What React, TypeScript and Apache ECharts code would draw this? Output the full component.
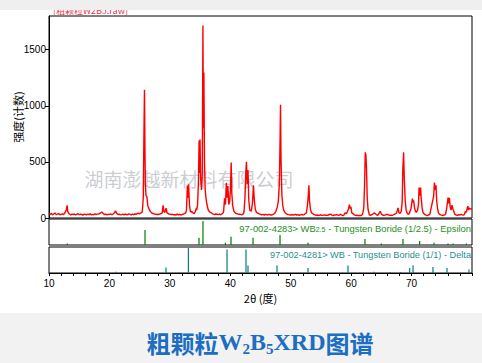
import React, { useEffect, useRef } from "react";
import * as echarts from "echarts";

// ---- XRD pattern (counts) ----
const PATTERN_START = 10;
const PATTERN_STEP = 0.2;
const patternBaseline = [
  38, 32, 41, 29, 36, 44, 31, 35, 40, 28,
  33, 37, 30, 42, 35, 39, 31, 36, 28, 34,
  30, 36, 27, 33, 38, 29, 35, 31, 26, 34,
  32, 28, 35, 30, 37, 27, 33, 29, 36, 31,
  34, 36, 40, 48, 52, 38, 30, 35, 28, 33,
  32, 36, 29, 35, 45, 63, 42, 31, 35, 28,
  30, 34, 27, 36, 31, 29, 37, 33, 28, 35,
  31, 36, 33, 39, 42, 38, 45, 50, 55, 60,
  90, 70, 60, 48, 45, 45, 40, 37, 32, 35,
  30, 33, 36, 40, 55, 80, 60, 45, 42, 36,
  35, 30, 33, 28, 31, 26, 34, 29, 32, 27,
  30, 33, 38, 45, 60, 150, 90, 55, 60, 45,
  40, 55, 90, 150, 300, 400, 300, 900, 400, 250,
  90, 70, 65, 55, 48, 40, 35, 31, 36, 33,
  30, 34, 29, 36, 45, 60, 120, 250, 200, 150,
  200, 300, 150, 60, 45, 40, 36, 32, 35, 29,
  30, 40, 50, 150, 300, 350, 200, 80, 60, 150,
  250, 100, 45, 42, 36, 32, 28, 33, 27, 31,
  30, 27, 33, 29, 25, 31, 35, 45, 60, 90,
  120, 400, 500, 150, 80, 50, 40, 35, 30, 28,
  27, 31, 25, 29, 33, 26, 30, 24, 28, 32,
  27, 30, 38, 45, 60, 120, 250, 100, 40, 32,
  28, 24, 27, 22, 26, 29, 23, 25, 28, 24,
  24, 27, 31, 35, 26, 22, 28, 25, 30, 26,
  24, 33, 28, 22, 26, 45, 38, 60, 80, 110,
  100, 45, 35, 25, 22, 26, 20, 24, 21, 27,
  27, 60, 300, 500, 150, 28, 24, 30, 35, 45,
  38, 28, 24, 40, 60, 35, 27, 24, 26, 30,
  33, 28, 23, 26, 22, 29, 35, 40, 45, 60,
  80, 50, 40, 200, 500, 300, 90, 35, 35, 30,
  45, 100, 170, 150, 70, 50, 60, 200, 260, 150,
  40, 30, 25, 22, 27, 30, 60, 84, 150, 200,
  250, 300, 100, 35, 28, 26, 22, 28, 30, 40,
  30, 80, 180, 170, 80, 110, 30, 26, 24, 30,
  27, 33, 28, 25, 31, 35, 39, 90, 70, 80,
  84,
];

const patternPeaks = [
  [[12.7, 45], [12.85, 70], [13.0, 113], [13.1, 60], [13.25, 40]],
  [[25.45, 65], [25.6, 180], [25.7, 700], [25.8, 1142], [25.88, 600], [25.95, 300], [26.05, 200], [26.2, 190], [26.35, 110], [26.5, 90], [26.65, 70], [26.8, 55]],
  [[28.73, 45], [28.88, 113], [29.03, 55], [29.18, 50], [29.38, 87], [29.53, 45]],
  [[32.75, 70], [32.9, 290], [33.0, 180], [33.1, 300], [33.25, 110], [33.4, 60], [33.55, 50]],
  [[34.44, 70], [34.59, 120], [34.72, 300], [34.84, 690], [34.92, 400], [34.99, 700], [35.09, 350], [35.24, 250], [35.37, 400], [35.47, 1715], [35.54, 800], [35.63, 1297], [35.73, 500], [35.85, 250], [35.99, 170], [36.14, 120], [36.34, 75]],
  [[38.9, 60], [39.05, 176], [39.2, 120], [39.35, 313], [39.45, 180], [39.6, 284], [39.75, 120], [39.9, 150], [40.02, 250], [40.15, 495], [40.25, 220], [40.4, 110], [40.6, 60]],
  [[42.28, 60], [42.43, 180], [42.58, 420], [42.68, 501], [42.8, 300], [42.93, 427], [43.06, 160], [43.23, 70], [43.48, 60], [43.68, 140], [43.83, 292], [43.98, 160], [44.13, 80], [44.33, 50]],
  [[47.54, 60], [47.74, 90], [47.94, 144], [48.12, 300], [48.24, 700], [48.31, 1008], [48.4, 500], [48.54, 200], [48.69, 110], [48.84, 70], [49.04, 50]],
  [[52.61, 55], [52.76, 110], [52.91, 200], [53.01, 292], [53.11, 150], [53.26, 80], [53.41, 50]],
  [[59.36, 55], [59.56, 80], [59.71, 120], [59.86, 84], [59.96, 100], [60.11, 45]],
  [[61.94, 45], [62.09, 90], [62.22, 292], [62.34, 585], [62.44, 560], [62.54, 442], [62.66, 180], [62.79, 80], [62.94, 45]],
  [[67.5, 45], [67.65, 70], [67.75, 90], [67.9, 50], [68.1, 40], [68.3, 60], [68.45, 150], [68.55, 427], [68.68, 585], [68.8, 343], [68.95, 150], [69.1, 70], [69.3, 40]],
  [[69.59, 35], [69.74, 60], [69.89, 80], [69.99, 114], [70.14, 173], [70.24, 140], [70.34, 158], [70.49, 90], [70.64, 60], [70.79, 50], [70.99, 70], [71.14, 120], [71.24, 272], [71.39, 200], [71.49, 272], [71.59, 180], [71.74, 90], [71.89, 50]],
  [[73.06, 40], [73.21, 84], [73.36, 120], [73.51, 158], [73.66, 200], [73.78, 316], [73.91, 250], [74.04, 292], [74.16, 150], [74.31, 80], [74.46, 45]],
  [[75.64, 40], [75.79, 80], [75.94, 140], [76.04, 182], [76.14, 130], [76.26, 180], [76.39, 100], [76.54, 70], [76.69, 114], [76.84, 80], [76.99, 60], [77.14, 35]],
  [[78.77, 35], [78.92, 60], [79.07, 50], [79.22, 90], [79.32, 105], [79.42, 70], [79.52, 90], [79.62, 84], [79.8, 80], [80.0, 84]],
];

// ---- reference sticks: [2θ, relative intensity %] ----
const wb25Sticks = [
  [13.04, 6], [25.89, 58], [34.82, 28], [35.48, 92], [39.19, 9], [40.12, 32],
  [43.76, 28], [48.23, 38], [52.86, 9], [62.29, 23], [65.0, 6], [68.58, 23],
  [71.34, 15], [73.71, 9], [76.03, 6], [76.85, 6], [79.07, 6],
];
const wbSticks = [
  [21.09, 5], [29.36, 21], [33.07, 97], [39.46, 90], [42.6, 90], [42.93, 29],
  [47.73, 29], [52.86, 19], [59.48, 29], [63.78, 5], [66.5, 4], [68.2, 4],
  [69.69, 19], [70.24, 29], [73.54, 23], [75.86, 19], [79.5, 13],
];

const yTickValues = [0, 500, 1000, 1500];
const xLabelValues = [10, 20, 30, 40, 50, 60, 70];
const xTickValues = [10, 12, 14, 16, 18, 20, 22, 24, 26, 28, 30, 32, 34, 36, 38, 40, 42, 44, 46, 48, 50, 52, 54, 56, 58, 60, 62, 64, 66, 68, 70, 72, 74, 76, 78, 80];

const headerText = "[粗颗粒W2B5.raw]";
const watermark = "湖南澎越新材料有限公司";
const yName = "强度(计数)";
const xName = "2θ (度)";

function buildPattern() {
  const pts: number[][] = [];
  patternBaseline.forEach((v, i) => {
    const x = Math.round((PATTERN_START + i * PATTERN_STEP) * 100) / 100;
    const inside = patternPeaks.some((c) => x >= c[0][0] && x <= c[c.length - 1][0]);
    if (!inside) pts.push([x, v]);
  });
  patternPeaks.forEach((c) => c.forEach((p) => pts.push([p[0], p[1]])));
  pts.sort((a, b) => a[0] - b[0]);
  return pts;
}

const SANS = "'Liberation Sans', Arial, sans-serif";
const CJK = "'Noto Sans CJK SC', sans-serif";

export default function App() {
  const ref = useRef<HTMLDivElement>(null);
  useEffect(() => {
    if (!ref.current) return;
    const chart = echarts.init(ref.current, null, { renderer: "svg" });
    const hiddenX = (gi: number) => ({
      type: "value", gridIndex: gi, min: 10, max: 80,
      axisLine: { show: false }, axisTick: { show: false }, axisLabel: { show: false }, splitLine: { show: false },
    });
    const hiddenY = (gi: number) => ({
      type: "value", gridIndex: gi, min: 0, max: 100, show: false, splitLine: { show: false },
    });
    const gridBase = {
      left: 49, width: 423, show: true, borderColor: "#000", borderWidth: 1,
      backgroundColor: "transparent", containLabel: false, outerBoundsMode: "none",
    };
    const option: any = {
      animation: false,
      backgroundColor: "#ffffff",
      grid: [
        { ...gridBase, top: 16, height: 202 },
        { ...gridBase, top: 219, height: 26 },
        { ...gridBase, top: 247, height: 26 },
      ],
      xAxis: [
        hiddenX(0),
        hiddenX(1),
        {
          type: "value", gridIndex: 2, min: 10, max: 80, interval: 2,
          axisLine: { show: true, lineStyle: { color: "#000", width: 1 } },
          axisTick: { show: true, length: 3, customValues: xTickValues, lineStyle: { color: "#000" } },
          axisLabel: { customValues: xLabelValues, fontSize: 10, color: "#000", margin: 5, fontFamily: SANS, formatter: (v: number) => String(v) },
          splitLine: { show: false },
          name: xName, nameLocation: "middle", nameGap: 19, nameMoveOverlap: false,
          nameTextStyle: { fontSize: 11, color: "#000", fontFamily: CJK },
        },
      ],
      yAxis: [
        {
          type: "value", gridIndex: 0, min: 0, max: 1800,
          axisLine: { show: true, lineStyle: { color: "#000", width: 1 } },
          axisTick: { show: true, length: 4, customValues: yTickValues, lineStyle: { color: "#000" } },
          axisLabel: { customValues: yTickValues, fontSize: 10, color: "#000", margin: 3, fontFamily: SANS, formatter: (v: number) => String(v) },
          splitLine: { show: false },
          name: yName, nameLocation: "middle", nameRotate: 90, nameGap: 26, nameMoveOverlap: false,
          nameTextStyle: { fontSize: 11, color: "#000", fontFamily: CJK },
        },
        hiddenY(1),
        hiddenY(2),
      ],
      series: [
        {
          type: "line", xAxisIndex: 0, yAxisIndex: 0, data: buildPattern(),
          showSymbol: false, symbol: "none", lineStyle: { color: "#ff0000", width: 1.4 }, z: 3,
        },
        {
          type: "bar", xAxisIndex: 1, yAxisIndex: 1, data: wb25Sticks, barWidth: 1.2,
          itemStyle: { color: "#007a00" },
        },
        {
          type: "bar", xAxisIndex: 2, yAxisIndex: 2, data: wbSticks, barWidth: 1.2,
          itemStyle: { color: "#008080" },
        },
      ],
      graphic: [
        {
          type: "rect", z: 0, shape: { x: 0, y: 313, width: 482, height: 50 },
          style: { fill: "#f2f2f2" },
        },
        {
          type: "text", z: 50, x: 53, y: 15,
          style: { text: headerText, fontSize: 9, fill: "#e8344e", fontFamily: CJK, verticalAlign: "bottom" },
        },
        {
          type: "rect", z: 100, shape: { x: 0, y: 0, width: 482, height: 10 },
          style: { fill: "#efefef" },
        },
        {
          type: "text", z: 1, x: 189, y: 178,
          style: { text: watermark, fontSize: 19, fill: "rgba(150,156,166,0.5)", fontFamily: CJK, align: "center", verticalAlign: "middle" },
        },
        {
          type: "text", z: 10, x: 471, y: 228,
          style: {
            text: "{a|97-002-4283> WB}{s|2.5}{a| - Tungsten Boride (1/2.5) - Epsilon}",
            align: "right", verticalAlign: "middle",
            rich: {
              a: { fontSize: 9.4, fill: "#1f8f1f", fontFamily: SANS },
              s: { fontSize: 7, fill: "#1f8f1f", fontFamily: SANS, verticalAlign: "bottom" },
            },
          },
        },
        {
          type: "text", z: 10, x: 471, y: 255,
          style: {
            text: "97-002-4281> WB - Tungsten Boride (1/1) - Delta",
            align: "right", verticalAlign: "middle", fontSize: 9.2, fill: "#1f9090", fontFamily: SANS,
          },
        },
        {
          type: "text", z: 10, x: 260, y: 342,
          style: {
            text: "{c|粗颗粒}{w|W}{s|2}{w|B}{s|5}{w|XRD}{c|图谱}",
            align: "center", verticalAlign: "middle",
            rich: {
              c: { fontSize: 24, fontWeight: "bold", fill: "#1b6ec2", fontFamily: CJK, lineHeight: 28 },
              w: { fontSize: 24, fontWeight: "bold", fill: "#1b6ec2", fontFamily: "'Liberation Serif', serif", lineHeight: 28 },
              s: { fontSize: 15, fontWeight: "bold", fill: "#1b6ec2", fontFamily: "'Liberation Serif', serif", lineHeight: 28, verticalAlign: "bottom" },
            },
          },
        },
      ],
    };
    chart.setOption(option);
    return () => chart.dispose();
  }, []);
  return (
    <div
      ref={ref}
      style={{ position: "absolute", left: 0, top: 0, width: 482, height: 363, background: "#fff" }}
    />
  );
}
